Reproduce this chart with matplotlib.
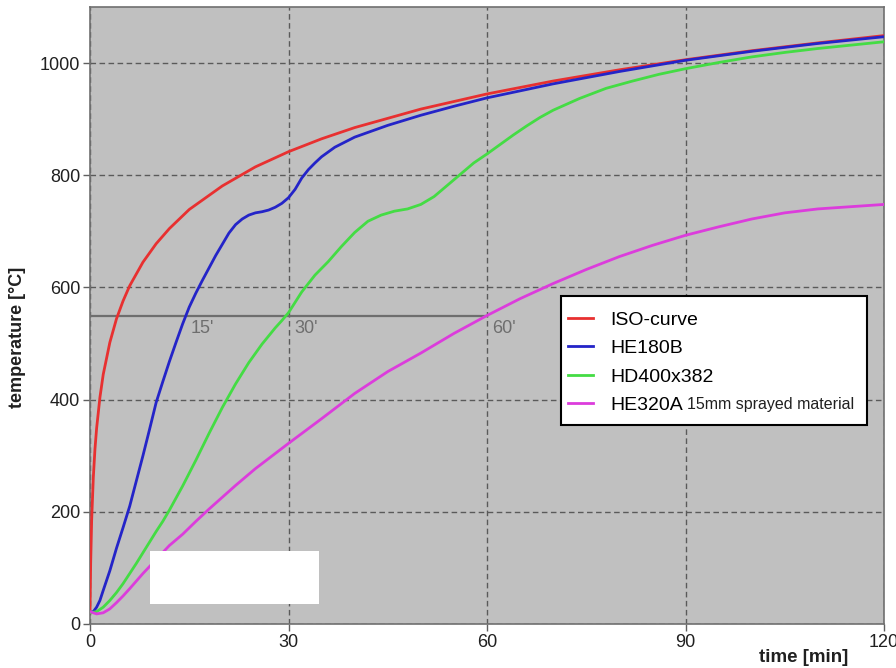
import matplotlib
matplotlib.use("Agg")
import matplotlib.pyplot as plt
from matplotlib.patches import Rectangle

plt.rcParams['font.family'] = ['Liberation Sans', 'DejaVu Sans']

# ---- data ----
iso_t = [0, 0.1, 0.25, 0.5, 0.75, 1, 1.5, 2, 3, 4, 5, 6, 8, 10, 12, 15, 20, 25, 30,
         35, 40, 50, 60, 70, 80, 90, 100, 110, 120]
iso_T = [20, 108, 185, 261, 312, 349, 404, 445, 502, 544, 576, 603, 645, 678, 705, 739,
         781, 815, 842, 865, 885, 918, 945, 968, 988, 1006, 1022, 1036, 1049]

he180_t = [0, 0.5, 1, 1.5, 2, 3, 4, 5, 6, 7, 8, 9, 10, 11, 12, 13, 14, 15, 16, 17, 18,
           19, 20, 21, 22, 23, 24, 25, 26, 27, 28, 29, 30, 31, 32, 33, 34, 35, 37, 40,
           45, 50, 55, 60, 70, 80, 90, 100, 110, 120]
he180_T = [20, 22, 30, 42, 60, 95, 135, 172, 210, 255, 300, 347, 395, 432, 468, 502,
           535, 565, 590, 613, 635, 657, 677, 697, 712, 722, 729, 733, 735, 738, 743,
           750, 760, 775, 795, 810, 822, 833, 850, 868, 889, 907, 923, 938, 963, 985,
           1005, 1021, 1035, 1047]

hd400_t = [0, 1, 2, 3, 4, 5, 6, 7, 8, 9, 10, 11, 12, 14, 16, 18, 20, 22, 24, 26, 28,
           29, 30, 32, 34, 36, 38, 40, 42, 44, 46, 48, 50, 52, 54, 56, 58, 60, 62, 64,
           66, 68, 70, 74, 78, 82, 86, 90, 95, 100, 105, 110, 115, 120]
hd400_T = [20, 22, 30, 42, 56, 72, 90, 108, 127, 146, 165, 183, 203, 246, 292, 340,
           386, 428, 466, 499, 528, 541, 555, 592, 622, 646, 673, 698, 718, 729, 736,
           740, 748, 762, 782, 802, 822, 838, 855, 872, 888, 903, 916, 937, 955, 968,
           980, 990, 1001, 1011, 1019, 1026, 1032, 1038]

he320_t = [0, 1, 2, 3, 4, 5, 6, 8, 10, 12, 14, 16, 18, 20, 22, 25, 30, 35, 40, 45, 50,
           55, 60, 65, 70, 75, 80, 85, 90, 95, 100, 105, 110, 115, 120]
he320_T = [22, 18, 20, 27, 38, 50, 63, 90, 115, 140, 160, 183, 205, 226, 247, 277, 322,
           366, 411, 450, 483, 518, 550, 580, 607, 632, 655, 675, 693, 708, 722, 733,
           740, 744, 748]

series_labels = ["ISO-curve", "HE180B", "HD400x382", "HE320A"]
series_colors = ["#e83030", "#2424c8", "#44dc44", "#dc3cdc"]

crit_T = 550
crit_times = [15, 30, 60]
crit_labels = ["15'", "30'", "60'"]

x_ticks = [0, 30, 60, 90, 120]
y_ticks = [0, 200, 400, 600, 800, 1000]

# ---- figure ----
W, H = 896, 668
AX_L, AX_R, AX_T, AX_B = 90, 884, 7, 624
fig = plt.figure(figsize=(W / 100, H / 100), dpi=100)
ax = fig.add_axes([AX_L / W, (H - AX_B) / H, (AX_R - AX_L) / W, (AX_B - AX_T) / H])
ax.set_facecolor("#c0c0c0")
ax.set_xlim(0, 120)
ax.set_ylim(0, 1100)
ax.set_xticks(x_ticks)
ax.set_yticks(y_ticks)
ax.grid(True, color="#5a5a5a", linestyle=(0, (4, 2.5)), linewidth=1.0)
ax.set_axisbelow(True)
for s in ax.spines.values():
    s.set_color("#707070")
    s.set_linewidth(1.2)
ax.tick_params(axis="both", length=5, width=1, color="#606060", labelsize=13,
               labelcolor="#202020", pad=2)


def ax_x(px):
    return (px - AX_L) / (AX_R - AX_L)


def ax_y(py):
    return (AX_B - py) / (AX_B - AX_T)


# critical temperature line
ax.plot([0, max(crit_times)], [crit_T, crit_T], color="#6e6e6e", lw=1.6, zorder=2)
for tt, lab in zip(crit_times, crit_labels):
    ax.annotate(lab, (tt, crit_T), xytext=(1 if tt == 15 else 4, -3),
                textcoords="offset points", ha="left", va="top",
                color="#6e6e6e", fontsize=13)

data = [(iso_t, iso_T), (he180_t, he180_T), (hd400_t, hd400_T), (he320_t, he320_T)]
handles = []
for (t, T), lab, c in zip(data, series_labels, series_colors):
    h, = ax.plot(t, T, color=c, lw=2.0, label=lab, zorder=3, solid_joinstyle="round")
    handles.append(h)

# legend frame (decoration) + legend entries
ax.add_patch(Rectangle((ax_x(561), ax_y(425)), ax_x(867) - ax_x(561),
                       ax_y(296) - ax_y(425), transform=ax.transAxes,
                       facecolor="white", edgecolor="black", linewidth=1.5,
                       zorder=4.5))
fs = 14
leg = ax.legend(handles=handles, loc="upper left",
                bbox_to_anchor=(ax_x(568), ax_y(311)),
                fontsize=fs, frameon=False, handlelength=1.29,
                handletextpad=0.88, labelspacing=0.56, borderpad=0.0,
                borderaxespad=0)
leg.set_zorder(5)
for lh in leg.get_lines():
    lh.set_linewidth(2.0)

fig.canvas.draw()
txt = leg.get_texts()[3]
bb = txt.get_window_extent()
fig.text((bb.x1 + 4) / W, (bb.y0 + 2.5) / H, "15mm sprayed material", fontsize=11.5,
         color="#202020", ha="left", va="bottom", zorder=10)

# axis labels
fig.text(18 / W, 1 - 337 / H, "temperature [°C]", rotation=90, ha="center",
         va="center", fontsize=13, fontweight="bold", color="#202020")
fig.text(848 / W, 1 - 657 / H, "time [min]", ha="right", va="center",
         fontsize=13.5, fontweight="bold", color="#202020")

# white masking box
fig.add_artist(Rectangle((150 / W, 1 - 604 / H), (319 - 150) / W, (604 - 551) / H,
                         transform=fig.transFigure, facecolor="white",
                         edgecolor="none", zorder=20))

fig.savefig("out.png", dpi=100, facecolor="white")
